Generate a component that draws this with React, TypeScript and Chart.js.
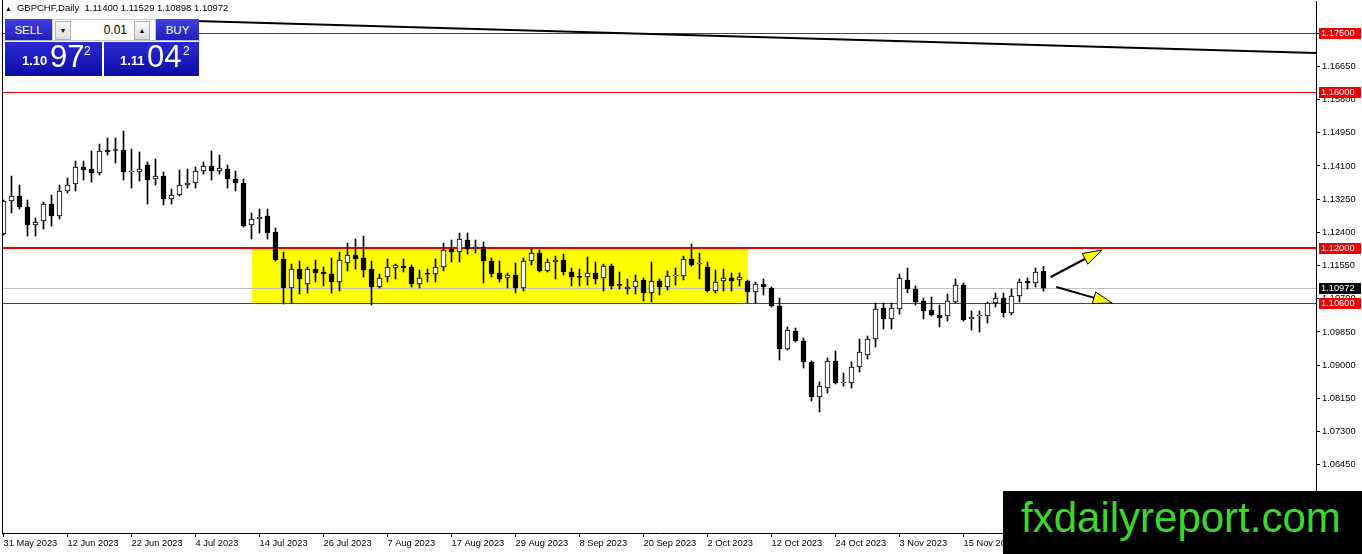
import React, { useEffect, useRef } from "react";
import { Chart, registerables } from "chart.js";

Chart.register(...registerables);

// ---------- data ----------
const symbolTitle = "GBPCHF,Daily";
const lastBarText = ["1.11400", "1.11529", "1.10898", "1.10972"];

const opens = [
  1.12358, 1.13203, 1.13331, 1.13050, 1.12589, 1.12691, 1.13126, 1.12819, 1.13459, 1.13638,
  1.14074, 1.14022, 1.13920, 1.14509, 1.14509, 1.14509, 1.13946, 1.13946, 1.14125, 1.13766,
  1.13843, 1.13254, 1.13357, 1.13613, 1.13664, 1.13971, 1.14099, 1.13971, 1.14022, 1.13766,
  1.13664, 1.12589, 1.12742, 1.12819, 1.12410, 1.11718, 1.10976, 1.11462, 1.11078, 1.11462,
  1.11386, 1.11334, 1.11130, 1.11616, 1.11821, 1.11744, 1.11462, 1.11002, 1.11258, 1.11488,
  1.11539, 1.11514, 1.11078, 1.11334, 1.11334, 1.11514, 1.11974, 1.11898, 1.12205, 1.11974,
  1.12026, 1.11667, 1.11360, 1.11232, 1.11309, 1.10976, 1.11667, 1.11872, 1.11411, 1.11642,
  1.11693, 1.11386, 1.11258, 1.11258, 1.11360, 1.11232, 1.11539, 1.11053, 1.10950, 1.11002,
  1.11181, 1.10848, 1.11155, 1.11002, 1.11283, 1.11283, 1.11718, 1.11590, 1.11514, 1.10899,
  1.11155, 1.11232, 1.11181, 1.11155, 1.10874, 1.11078, 1.10976, 1.10515, 1.09414, 1.09875,
  1.09619, 1.09082, 1.08186, 1.08416, 1.09107, 1.08544, 1.08544, 1.08954, 1.09261, 1.09670,
  1.10464, 1.10182, 1.10438, 1.11181, 1.10950, 1.10643, 1.10413, 1.10285, 1.10259, 1.10618,
  1.11053, 1.10182, 1.10259, 1.10259, 1.10592, 1.10720, 1.10336, 1.10771, 1.11155, 1.11104,
  1.11400,
];

const highs = [
  1.13229, 1.13843, 1.13613, 1.13229, 1.12768, 1.13178, 1.13357, 1.13613, 1.13792, 1.14227,
  1.14227, 1.14483, 1.14662, 1.14816, 1.14816, 1.14995, 1.14534, 1.14458, 1.14202, 1.14278,
  1.13946, 1.13510, 1.13997, 1.14022, 1.14074, 1.14202, 1.14483, 1.14381, 1.14125, 1.13971,
  1.13766, 1.12896, 1.12998, 1.12998, 1.12512, 1.11898, 1.11590, 1.11667, 1.11514, 1.11693,
  1.11514, 1.11744, 1.11898, 1.12128, 1.12230, 1.12307, 1.11667, 1.11334, 1.11718, 1.11590,
  1.11718, 1.11565, 1.11437, 1.11462, 1.11718, 1.12128, 1.12205, 1.12384, 1.12384, 1.12205,
  1.12154, 1.11744, 1.11667, 1.11360, 1.11616, 1.11744, 1.12000, 1.11949, 1.11718, 1.11795,
  1.11846, 1.11488, 1.11462, 1.11770, 1.11642, 1.11590, 1.11590, 1.11386, 1.11206, 1.11309,
  1.11232, 1.11642, 1.11206, 1.11411, 1.11488, 1.11795, 1.12102, 1.11872, 1.11642, 1.11437,
  1.11462, 1.11360, 1.11360, 1.11181, 1.11130, 1.11206, 1.11002, 1.10720, 1.09978, 1.09952,
  1.09696, 1.09107, 1.08570, 1.09184, 1.09363, 1.08800, 1.09082, 1.09670, 1.09747, 1.10592,
  1.10592, 1.10592, 1.11334, 1.11488, 1.11027, 1.10720, 1.10746, 1.10541, 1.10822, 1.11206,
  1.11104, 1.10387, 1.10387, 1.10618, 1.10848, 1.10848, 1.10950, 1.11206, 1.11232, 1.11488,
  1.11529,
];

const lows = [
  1.12333, 1.12896, 1.12998, 1.12307, 1.12307, 1.12486, 1.12563, 1.12742, 1.13408, 1.13459,
  1.13741, 1.13690, 1.13869, 1.14381, 1.14176, 1.13741, 1.13536, 1.13715, 1.13126, 1.13613,
  1.13101, 1.13126, 1.13331, 1.13536, 1.13536, 1.13894, 1.13741, 1.13894, 1.13536, 1.13459,
  1.12538, 1.12230, 1.12384, 1.12230, 1.11667, 1.10566, 1.10592, 1.10822, 1.10848, 1.11130,
  1.11027, 1.10848, 1.10899, 1.11411, 1.11462, 1.11258, 1.10541, 1.10976, 1.11130, 1.11206,
  1.11386, 1.11002, 1.10976, 1.11130, 1.11130, 1.11411, 1.11642, 1.11642, 1.11846, 1.11872,
  1.11104, 1.11258, 1.11130, 1.10976, 1.10848, 1.10899, 1.11565, 1.11386, 1.11386, 1.11206,
  1.11309, 1.11027, 1.11027, 1.11053, 1.11078, 1.10899, 1.10950, 1.10950, 1.10822, 1.10822,
  1.10643, 1.10618, 1.10797, 1.10925, 1.11053, 1.11181, 1.11539, 1.11206, 1.10874, 1.10848,
  1.10899, 1.10899, 1.11027, 1.10592, 1.10592, 1.10797, 1.10490, 1.09133, 1.09389, 1.09594,
  1.08928, 1.08083, 1.07802, 1.08288, 1.08518, 1.08467, 1.08416, 1.08826, 1.09158, 1.09466,
  1.09926, 1.09926, 1.10310, 1.10848, 1.10541, 1.10182, 1.10259, 1.09978, 1.10131, 1.10592,
  1.10131, 1.09901, 1.09850, 1.10080, 1.10490, 1.10234, 1.10285, 1.10618, 1.10950, 1.11002,
  1.10898,
];

const closes = [
  1.13203, 1.13331, 1.13050, 1.12589, 1.12666, 1.13126, 1.12819, 1.13459, 1.13613, 1.14074,
  1.13997, 1.13920, 1.14483, 1.14458, 1.14496, 1.13946, 1.13958, 1.14022, 1.13741, 1.13843,
  1.13254, 1.13357, 1.13613, 1.13664, 1.13971, 1.14099, 1.13971, 1.14048, 1.13766, 1.13664,
  1.12563, 1.12742, 1.12794, 1.12384, 1.11693, 1.10976, 1.11462, 1.11206, 1.11462, 1.11360,
  1.11334, 1.11130, 1.11693, 1.11821, 1.11718, 1.11437, 1.11002, 1.11232, 1.11514, 1.11565,
  1.11488, 1.11078, 1.11232, 1.11330, 1.11514, 1.11949, 1.11898, 1.12230, 1.11974, 1.12026,
  1.11667, 1.11334, 1.11206, 1.11309, 1.10976, 1.11667, 1.11872, 1.11411, 1.11642, 1.11693,
  1.11386, 1.11258, 1.11250, 1.11360, 1.11206, 1.11539, 1.11027, 1.11045, 1.11002, 1.11155,
  1.10848, 1.11155, 1.11002, 1.11283, 1.11290, 1.11718, 1.11565, 1.11595, 1.10899, 1.11130,
  1.11232, 1.11155, 1.11258, 1.10874, 1.11078, 1.11002, 1.10515, 1.09414, 1.09901, 1.09619,
  1.09082, 1.08186, 1.08467, 1.09107, 1.08544, 1.08550, 1.08954, 1.09338, 1.09670, 1.10438,
  1.10182, 1.10464, 1.11232, 1.10950, 1.10618, 1.10387, 1.10285, 1.10208, 1.10643, 1.11053,
  1.10157, 1.10234, 1.10265, 1.10592, 1.10720, 1.10336, 1.10771, 1.11130, 1.11104, 1.11386,
  1.10972,
];

// date labels, one every 8 bars
const xTickBars = [0, 8, 16, 24, 32, 40, 48, 56, 64, 72, 80, 88, 96, 104, 112, 120, 128];
const xLabels = [
  "31 May 2023", "12 Jun 2023", "22 Jun 2023", "4 Jul 2023", "14 Jul 2023", "26 Jul 2023",
  "7 Aug 2023", "17 Aug 2023", "29 Aug 2023", "8 Sep 2023", "20 Sep 2023", "2 Oct 2023",
  "12 Oct 2023", "24 Oct 2023", "3 Nov 2023", "15 Nov 2023", "27 Nov 2023",
];

const yTicks = [
  1.0645, 1.073, 1.0815, 1.09, 1.0985, 1.107, 1.1155, 1.124, 1.1325, 1.141, 1.1495, 1.158, 1.1665, 1.175,
];

const levels = [1.175, 1.16, 1.12, 1.106];
const bidPrice = 1.10972;

// trend line anchors (bar index, price)
const trendBars = [24, 164.0625];
const trendPrices = [1.17811, 1.16992];

// range box (bar index, price)
const zoneBars = [31, 93];
const zonePrices = [1.106, 1.12];

// arrows: [fromBar, fromPrice, toBar, toPrice]
const arrowUp = [130.9, 1.11258, 137.3, 1.11949];
const arrowDown = [131.6, 1.11002, 138.6, 1.10592];

// ---------- view constants ----------
const X_MIN = -0.1875;
const X_MAX = 164.0625;
const Y_MIN = 1.04704;
const Y_MAX = 1.18324;
const FONT = '"Liberation Sans", Arial, sans-serif';
const RED = "#ee0000";

function drawArrow(ctx: CanvasRenderingContext2D, x0: number, y0: number, x1: number, y1: number) {
  const ang = Math.atan2(y1 - y0, x1 - x0);
  const headLen = 19;
  const headW = 6;
  const bx = x1 - headLen * Math.cos(ang);
  const by = y1 - headLen * Math.sin(ang);
  ctx.save();
  ctx.strokeStyle = "#000";
  ctx.lineWidth = 2;
  ctx.beginPath();
  ctx.moveTo(x0, y0);
  ctx.lineTo(bx + 4 * Math.cos(ang), by + 4 * Math.sin(ang));
  ctx.stroke();
  ctx.beginPath();
  ctx.moveTo(x1, y1);
  ctx.lineTo(bx + headW * Math.sin(ang), by - headW * Math.cos(ang));
  ctx.lineTo(bx - headW * Math.sin(ang), by + headW * Math.cos(ang));
  ctx.closePath();
  ctx.fillStyle = "#ffff00";
  ctx.fill();
  ctx.lineWidth = 1;
  ctx.stroke();
  ctx.restore();
}

const chartPlugin = {
  id: "mt4Extras",
  beforeDatasetsDraw(chart: any) {
    const { ctx, scales, chartArea } = chart;
    const x = scales.x;
    const y = scales.y;
    ctx.save();
    // range box
    const x0 = x.getPixelForValue(zoneBars[0]);
    const x1 = x.getPixelForValue(zoneBars[1]);
    const y0 = y.getPixelForValue(zonePrices[1]);
    const y1 = y.getPixelForValue(zonePrices[0]);
    ctx.fillStyle = "#ffff00";
    ctx.fillRect(Math.round(x0), Math.round(y0), Math.round(x1 - x0), Math.round(y1 - y0));
    // bid line
    ctx.fillStyle = "#c0c0c0";
    ctx.fillRect(chartArea.left, Math.round(y.getPixelForValue(bidPrice)), chartArea.right - chartArea.left, 1);
    // horizontal levels
    ctx.fillStyle = RED;
    levels.forEach((v) => {
      const py = Math.round(y.getPixelForValue(v));
      const w = v === 1.12 ? 2 : 1;
      ctx.fillRect(chartArea.left, py - (w - 1), chartArea.right - chartArea.left, w);
    });
    ctx.restore();
  },
  afterDatasetsDraw(chart: any) {
    const { ctx, scales } = chart;
    const x = scales.x;
    const y = scales.y;
    [arrowUp, arrowDown].forEach((a) => {
      drawArrow(ctx, x.getPixelForValue(a[0]), y.getPixelForValue(a[1]), x.getPixelForValue(a[2]), y.getPixelForValue(a[3]));
    });
  },
  afterDraw(chart: any) {
    const { ctx, scales, chartArea } = chart;
    const y = scales.y;
    ctx.save();
    // left frame
    ctx.fillStyle = "#000";
    ctx.fillRect(chartArea.left, 0, 1, chartArea.bottom);
    // price tags
    ctx.font = `9.3px ${FONT}`;
    ctx.textBaseline = "middle";
    ctx.textAlign = "left";
    const tags = levels.map((v) => ({ v, bg: RED })).concat([{ v: bidPrice, bg: "#000000" }]);
    tags.forEach((t) => {
      const py = Math.round(y.getPixelForValue(t.v));
      ctx.fillStyle = t.bg;
      ctx.fillRect(chartArea.right + 3, py - 5, 42, 11);
      ctx.fillStyle = "#ffffff";
      ctx.fillText(t.v.toFixed(5), chartArea.right + 5, py + 0.5);
    });
    ctx.restore();
  },
};

export default function App() {
  const canvasRef = useRef<HTMLCanvasElement | null>(null);

  useEffect(() => {
    if (!canvasRef.current) return;
    const wickData = opens.map((_, i) => ({ x: i, y: [lows[i], highs[i]] }));
    const bodyData = opens.map((o, i) => ({ x: i, y: [o, closes[i]] }));
    const bodyColors = opens.map((o, i) => (closes[i] >= o ? "#ffffff" : "#000000"));

    const chart = new Chart(canvasRef.current, {
      type: "bar",
      data: {
        datasets: [
          {
            type: "bar",
            data: bodyData as any,
            backgroundColor: bodyColors,
            borderColor: "#000000",
            borderWidth: 1,
            borderSkipped: false,
            barThickness: 5,
            minBarLength: 1,
            grouped: false,
            order: 1,
          } as any,
          {
            type: "bar",
            data: wickData as any,
            backgroundColor: "#000000",
            borderWidth: 0,
            barThickness: 1,
            grouped: false,
            order: 2,
          } as any,
          {
            type: "line",
            data: [
              { x: trendBars[0], y: trendPrices[0] },
              { x: trendBars[1], y: trendPrices[1] },
            ],
            borderColor: "#000000",
            borderWidth: 2,
            pointRadius: 0,
            order: 3,
          } as any,
        ],
      },
      options: {
        animation: false,
        responsive: false,
        maintainAspectRatio: false,
        devicePixelRatio: 1,
        layout: { padding: { left: 2, top: 1, right: 0, bottom: 0 }, autoPadding: false } as any,
        plugins: { legend: { display: false }, tooltip: { enabled: false } },
        events: [],
        scales: {
          x: {
            type: "linear",
            position: "bottom",
            min: X_MIN,
            max: X_MAX,
            offset: false,
            afterBuildTicks: (scale: any) => {
              scale.ticks = xTickBars.map((v) => ({ value: v }));
            },
            afterFit: (scale: any) => {
              scale.height = 21;
              scale.paddingLeft = 0;
              scale.paddingRight = 0;
            },
            grid: { drawOnChartArea: false, drawTicks: true, tickLength: 4, color: "#000000", offset: false },
            border: { display: true, color: "#000000", width: 1 },
            ticks: {
              autoSkip: false,
              maxRotation: 0,
              align: "start",
              padding: 1,
              color: "#000000",
              font: { family: FONT, size: 9.3 },
              callback: (_v: any, idx: number) => xLabels[idx],
            },
          } as any,
          y: {
            type: "linear",
            position: "right",
            min: Y_MIN,
            max: Y_MAX,
            afterBuildTicks: (scale: any) => {
              scale.ticks = yTicks.map((v) => ({ value: v }));
            },
            afterFit: (scale: any) => {
              scale.width = 46;
              scale.paddingTop = 0;
              scale.paddingBottom = 0;
            },
            grid: { drawOnChartArea: false, drawTicks: true, tickLength: 4, color: "#000000" },
            border: { display: true, color: "#000000", width: 1 },
            ticks: {
              padding: 2,
              color: "#000000",
              font: { family: FONT, size: 9.3 },
              callback: (v: any) => Number(v).toFixed(5),
            },
          } as any,
        },
      },
      plugins: [chartPlugin],
    });
    return () => chart.destroy();
  }, []);

  const blueBtn: React.CSSProperties = {
    position: "absolute",
    top: 19,
    height: 22,
    background: "linear-gradient(#4242e4, #1e1ebc)",
    color: "#ffffff",
    font: `11.5px ${FONT}`,
    display: "flex",
    alignItems: "center",
    justifyContent: "center",
    boxSizing: "border-box",
    borderBottom: "1px solid #b8b8f0",
  };
  const priceBox: React.CSSProperties = {
    position: "absolute",
    top: 42,
    height: 34,
    background: "linear-gradient(#2a2ad2, #0c0ca4)",
    color: "#ffffff",
    fontFamily: FONT,
  };
  const smallBtn: React.CSSProperties = {
    position: "absolute",
    top: 1,
    width: 16,
    height: 19,
    background: "linear-gradient(#fafafa, #dcdcdc)",
    border: "1px solid #b0b0b0",
    boxSizing: "border-box",
    fontSize: 7,
    color: "#000",
    display: "flex",
    alignItems: "center",
    justifyContent: "center",
  };

  return (
    <div style={{ position: "fixed", left: 0, top: 0, width: 1362, height: 554, background: "#ffffff", overflow: "hidden" }}>
      <canvas ref={canvasRef} width={1362} height={554} style={{ display: "block", width: 1362, height: 554 }} />
      {/* header */}
      <div style={{ position: "absolute", left: 5, top: 2, font: `9.5px ${FONT}`, color: "#000", whiteSpace: "pre", lineHeight: "12px" }}>
        <span style={{ fontSize: 7, marginRight: 5 }}>▲</span>
        {symbolTitle + "  " + lastBarText.join(" ")}
      </div>
      {/* trade panel */}
      <div style={{ ...blueBtn, left: 5, width: 47 }}>SELL</div>
      <div style={{ position: "absolute", left: 52, top: 19, width: 104, height: 22, background: "#ffffff", border: "1px solid #c8c8c8", boxSizing: "border-box" }}>
        <div style={{ ...smallBtn, left: 2 }}>▼</div>
        <div style={{ position: "absolute", right: 28, top: 3, font: `12px ${FONT}`, color: "#000" }}>0.01</div>
        <div style={{ ...smallBtn, left: 81 }}>▲</div>
      </div>
      <div style={{ ...blueBtn, left: 156, width: 43 }}>BUY</div>
      <div style={{ ...priceBox, left: 5, width: 97 }}>
        <span style={{ position: "absolute", left: 17, top: 12, fontSize: 13, fontWeight: "bold", lineHeight: "13px" }}>1.10</span>
        <span style={{ position: "absolute", left: 45, top: -1, fontSize: 31, lineHeight: "31px" }}>97</span>
        <span style={{ position: "absolute", left: 79, top: 3, fontSize: 12, lineHeight: "12px" }}>2</span>
      </div>
      <div style={{ ...priceBox, left: 104, width: 95 }}>
        <span style={{ position: "absolute", left: 16, top: 12, fontSize: 13, fontWeight: "bold", lineHeight: "13px" }}>1.11</span>
        <span style={{ position: "absolute", left: 43, top: -1, fontSize: 31, lineHeight: "31px" }}>04</span>
        <span style={{ position: "absolute", left: 79, top: 3, fontSize: 12, lineHeight: "12px" }}>2</span>
      </div>
      {/* watermark */}
      <div
        style={{
          position: "absolute",
          left: 1003,
          top: 491,
          width: 359,
          height: 63,
          background: "#000000",
          color: "#3ad82a",
          font: `42px ${FONT}`,
          lineHeight: "53px",
          paddingLeft: 18,
          boxSizing: "border-box",
          whiteSpace: "nowrap",
        }}
      >
        fxdailyreport.com
      </div>
    </div>
  );
}
